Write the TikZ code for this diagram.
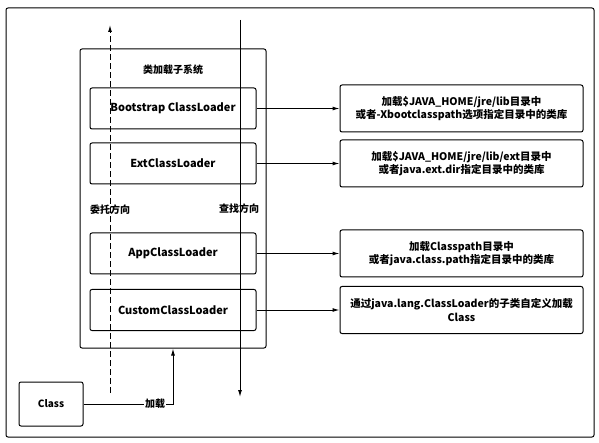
\documentclass[tikz,border=0pt]{standalone}
\usepackage{fontspec}
\setmainfont{Noto Sans CJK SC}
\usetikzlibrary{arrows.meta,positioning}
\begin{document}
\begin{tikzpicture}[x=1pt, y=-1pt, line width=1pt, font=\bfseries,
    box/.style={draw, rounded corners=2pt, align=center, inner sep=0pt},
    loader/.style={box, minimum width=166pt, minimum height=41pt, font=\fontsize{11}{13}\selectfont\bfseries},
    desc/.style={box, minimum width=243pt, minimum height=47pt, font=\fontsize{10.5}{13.5}\selectfont\bfseries},
    arr/.style={-{Latex[length=7pt,width=4pt]}}]
    \useasboundingbox (0,0) rectangle (599,443);
    \draw[rounded corners=2pt] (6,8) rectangle (594,437);
    % subsystem
    \node[box, minimum width=186pt, minimum height=299pt] (sub) at (173,198.5) {};
    \node[font=\fontsize{10}{12}\selectfont\bfseries] (title) at (173,70) {类加载子系统};
    \node[loader] (boot) at (173,108.5) {Bootstrap ClassLoader};
    \node[loader] (ext) at (173,163.5) {ExtClassLoader};
    \node[loader] (app) at (173,253.5) {AppClassLoader};
    \node[loader] (custom) at (173,310) {CustomClassLoader};
    % descriptions
    \node[desc] (bootd) at (461.5,108.5) {加载\$JAVA\_HOME/jre/lib目录中\\或者-Xbootclasspath选项指定目录中的类库};
    \node[desc] (extd) at (461.5,163.5) {加载\$JAVA\_HOME/jre/lib/ext目录中\\或者java.ext.dir指定目录中的类库};
    \node[desc] (appd) at (461.5,253.5) {加载Classpath目录中\\或者java.class.path指定目录中的类库};
    \node[desc] (customd) at (461.5,310) {通过java.lang.ClassLoader的子类自定义加载\\Class};
    \foreach \a in {boot,ext,app,custom}
        \draw[arr] (\a.east) -- (\a d.west);
    % directions
    \coordinate (delb) at (110,393);
    \coordinate (delt) at (110,25);
    \coordinate (fndt) at (240,20);
    \coordinate (fndb) at (240,397);
    \draw[arr, dashed, dash pattern=on 6pt off 3pt] (delb) -- (delt);
    \draw[arr] (fndt) -- (fndb);
    \node[font=\fontsize{10}{12}\selectfont\bfseries] (del) at (110,210) {委托方向};
    \node[font=\fontsize{10}{12}\selectfont\bfseries] (fnd) at (239,209) {查找方向};
    % class
    \node[box, minimum width=64pt, minimum height=44pt, font=\fontsize{10}{12}\selectfont\bfseries] (cls) at (51,404) {Class};
    \draw[arr] (cls.east) -| node[pos=0.4, fill=white, inner sep=1pt, font=\fontsize{10}{12}\selectfont\bfseries] {加载} (sub.south);
\end{tikzpicture}
\end{document}
